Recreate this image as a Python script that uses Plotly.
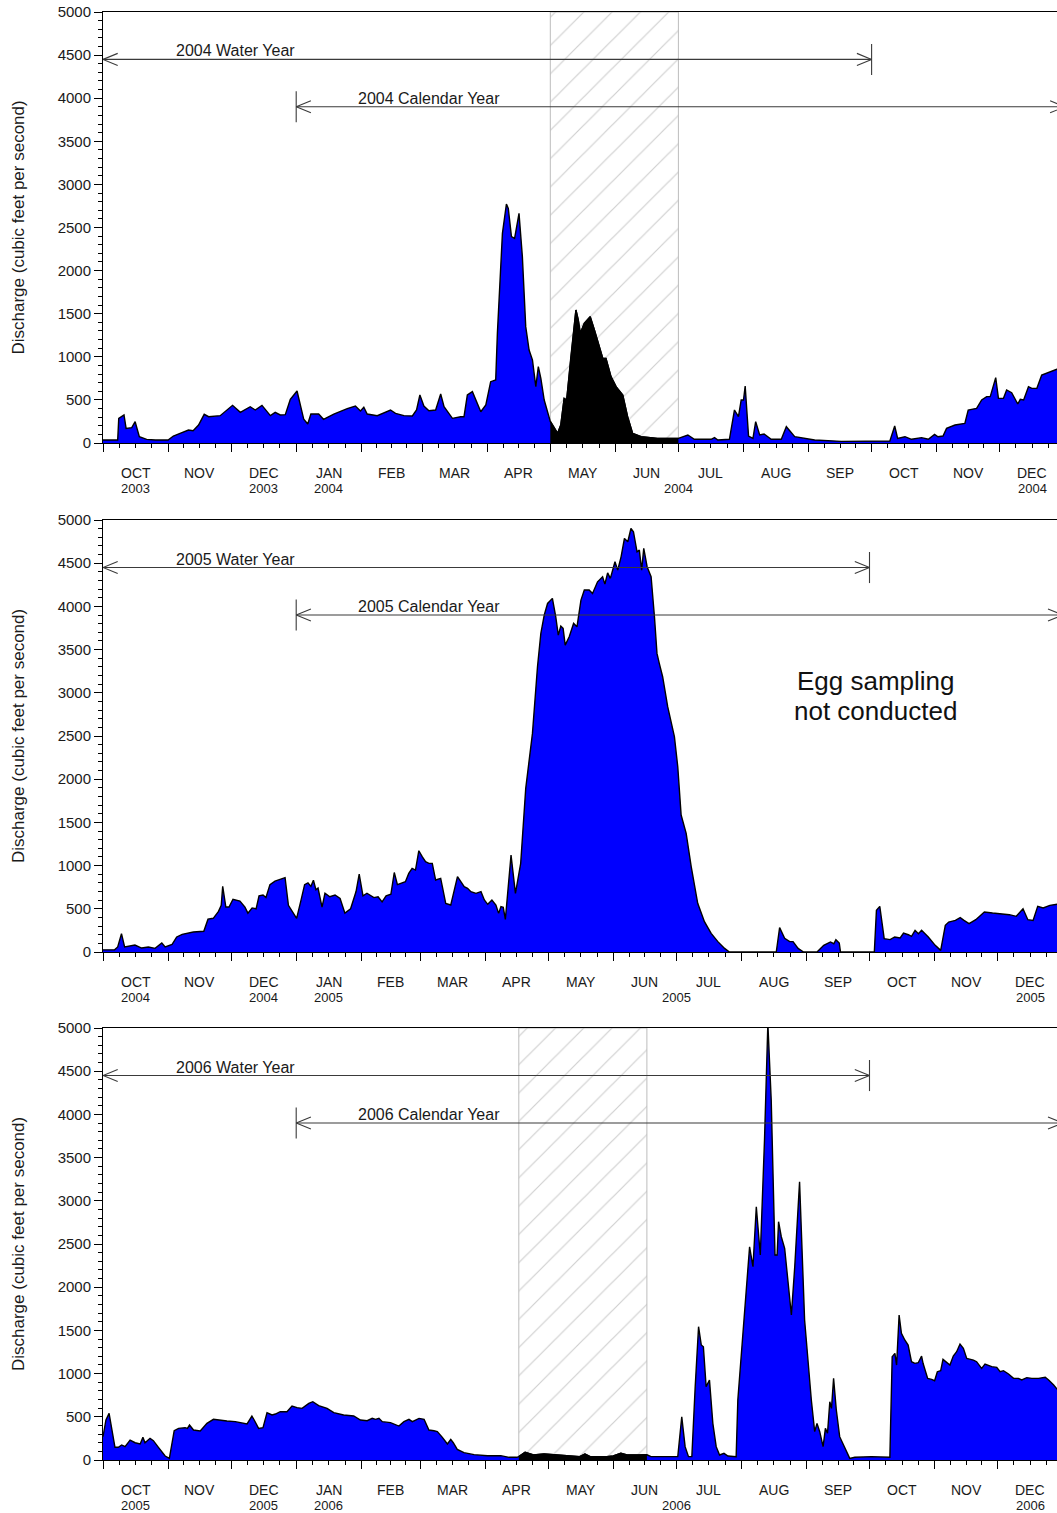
import pandas as pd
import plotly.graph_objects as go

# ---------------- data ----------------
panel_starts = ["2003-10-01", "2004-10-01", "2005-10-01"]

# day offsets from panel start (Oct 1) and discharge (cfs)
days_p1 = [0, 7, 7.5, 10, 11, 13.7, 15.3, 17.3, 20.8, 25, 31, 33.5, 36.7, 40.7, 42.9, 45.5, 48.2, 50.3,
           55.8, 59, 61.7, 65.4, 70.1, 72.5, 75.7, 79.7, 82, 84.4, 86.8, 89.2, 92.4, 95.6, 97.5, 99,
           102.7, 105, 109.9, 116.3, 120.2, 122.6, 124.2, 125.8, 130.6, 136.9, 139.3, 143.3, 147.3,
           149.3, 150.9, 152.8, 155.2, 158.4, 160.8, 162.4, 166.4, 170.3, 171.9, 173.5, 175.9, 179.9,
           182.3, 184.6, 187, 187.8, 190.2, 192.1, 193, 194.5, 196, 198.1, 199.7, 201.3, 202.9, 204.5,
           206.1, 207.3, 208.5, 210.1, 213, 216.5, 218, 219.6, 220.8, 222.8, 225.2, 226.3, 227.3,
           229.2, 232, 234, 235.9, 238, 239.5, 241.9, 244.3, 247.5, 249.8, 252.2, 256.2, 264, 274,
           278.5, 281.6, 289.6, 291.2, 292.8, 298.3, 300.7, 302.6, 303.9, 305, 305.8, 307.4, 309.5,
           310.8, 312.7, 314.8, 318.2, 323, 325.4, 329.4, 332.6, 338.9, 351.6, 367.5, 374.7, 377,
           378.4, 381.9, 385, 389.8, 393, 396, 397.6, 400, 401.7, 405.7, 410.4, 412, 416, 418.4,
           420.8, 422.5, 424, 425.1, 426.4, 428.8, 430.3, 432.7, 435.6, 436.8, 438.4, 440.7, 442.3,
           444.7, 447, 450.2, 454.2, 456]
flow_p1 = [35, 35, 286, 325, 170, 178, 247, 73, 42, 35, 35, 81, 112, 150, 143, 209, 333, 305,
           317, 383, 437, 356, 421, 383, 437, 317, 356, 325, 329, 507, 603, 275, 220, 336,
           336, 275, 336, 398, 429, 371, 414, 336, 317, 383, 344, 317, 313,
           383, 557, 429, 375, 383, 568, 421, 286, 305, 305, 557, 596, 363,
           441, 711, 731, 1272, 2432, 2773, 2722, 2394, 2374, 2664, 2162, 1350, 1079, 963,
           654, 886, 750, 499, 250, 112, 209, 518, 499, 1001, 1543, 1427, 1272,
           1388, 1466, 1311, 1156, 982, 982, 770, 654, 557, 306, 112, 73, 54, 54,
           93, 43, 43, 62, 35, 43, 383, 305, 499, 499, 661, 81, 54,
           247, 93, 104, 43, 43, 189, 73, 62, 35, 19, 23, 23, 197,
           54, 73, 43, 62, 43, 100, 73, 81, 170, 209, 228, 383, 402, 499,
           538, 538, 653, 758, 518, 518, 615, 584, 452, 507, 499, 653, 634,
           634, 789, 816, 855, 855]

days_p2 = [0, 5.5, 7, 8.8, 10.3, 12, 15.2, 18.4, 21.6, 24.8, 28, 29.6, 32.9, 35.1, 37.7, 43, 48,
           50, 52.5, 55, 56.3, 57, 58.5, 60, 61.9, 65.2, 67.6, 69, 71, 72.9, 74.3, 76.2, 77.6, 79.5,
           81.9, 84.3, 86.7, 88.3, 90, 92.2, 94.3, 96, 97.6, 99, 100.2, 101.4, 102.4, 104.3, 105.7,
           108, 110.5, 112.9, 115.2, 117.9, 120.5, 122, 123.8, 125.7, 129, 131, 132.9, 134.8, 137.1,
           138.7, 140.2, 141.7, 144, 145.6, 147.2, 148.8, 150.4, 152, 153.6, 155.2, 156.8, 158.4,
           160.8, 161.6, 163.2, 165.6, 167.2, 168.8, 170.4, 172, 173.6, 175.2, 177.6, 180, 181.6,
           183.2, 185.2, 187.1, 188.4, 189.5, 190.6, 191.6, 194.3, 196.4, 198.9, 201.3, 204.5,
           206.9, 208.5, 210.1, 211.7, 213, 214, 215.6, 216.8, 218, 219.1, 220.1, 222, 224.1, 225.7,
           227.6, 229.2, 231.5, 233.1, 235.5, 237.9, 239, 240.3, 241.6, 243.8, 245.1, 246.7, 248.3,
           249.9, 251.4, 252.6, 254.3, 255.4, 256.5, 257.5, 259.1, 261, 262.6, 263.8, 264.9, 266.5,
           268.9, 272.1, 273.7, 275.3, 277.7, 280.1, 283.2, 286.4, 289.6, 292.8, 296, 298.3, 320.6,
           322.2, 324.6, 327, 328.6, 331, 333.6, 340, 343.2, 346.4, 348, 349, 350.6, 351.2, 367.3,
           368.3, 369.9, 372, 374.8, 377, 379.6, 381.2, 383.5, 385, 386.7, 388.3, 389.8, 393, 396.3,
           398.9, 401.1, 402.7, 405.9, 408.2, 410, 412.4, 415.6, 419.7, 423.6, 426.8, 431.6, 434.9,
           438.1, 440.4, 442.9, 445.1, 447.7, 450.9, 454.2, 456]
flow_p2 = [25, 25, 58, 212, 58, 66, 81, 46, 58, 42, 104, 58, 89, 174, 204, 231, 240,
           380, 390, 470, 540, 760, 520, 520, 610, 590, 520, 450, 510, 500, 650, 660, 630, 780,
           820, 840, 860, 540, 480, 390, 600, 780, 800, 760, 830, 720, 740, 520, 680,
           640, 660, 620, 450, 500, 700, 900, 650, 680, 630, 640, 580, 650, 670,
           920, 780, 795, 814, 910, 968, 949, 1172, 1103, 1045, 1026, 1026, 833,
           852, 756, 563, 544, 717, 872, 814, 756, 737, 698, 679, 698, 602,
           552, 602, 544, 447, 525, 517, 378, 1122, 679, 1026, 1894, 2530,
           3302, 3687, 3899, 4034, 4073, 4093, 3880, 3668, 3772, 3745, 3552, 3649, 3803, 3764,
           4073, 4189, 4189, 4150, 4285, 4343, 4258, 4389, 4324, 4517, 4420, 4574, 4787,
           4748, 4902, 4864, 4632, 4652, 4420, 4671, 4459, 4343, 3880, 3456, 3340, 3186,
           2839, 2492, 2144, 1585, 1373, 987, 563, 351, 216, 120, 42, 0, 0,
           282, 158, 120, 120, 42, 0, 0, 77, 116, 96, 143, 104, 0, 0,
           482, 528, 154, 143, 174, 162, 220, 200, 181, 251, 212, 251, 174, 77,
           19, 309, 347, 366, 397, 366, 328, 374, 463, 451, 444, 432, 413,
           501, 374, 366, 528, 509, 540, 548, 560]

days_p3 = [0, 1.4, 2.9, 4.1, 5.7, 7.3, 8.9, 10.5, 12.9, 15.3, 17.7, 19, 20, 22.4, 24, 26.4, 29.6,
           31.6, 33.9, 36, 39.1, 40.2, 41.2, 43.1, 46.3, 49.5, 52.6, 59, 63, 68.6, 70.9, 72, 74.1,
           76.2, 78.1, 80.5, 82.1, 84.4, 87.6, 90, 92.4, 94.8, 98, 99.9, 102.7, 106.7, 109.9, 114.6,
           119.4, 122.6, 125.8, 128.2, 129.8, 131.4, 133, 136.9, 140.9, 143.3, 145.7, 147.3, 150.5,
           152.9, 155.2, 157.6, 159.2, 161.6, 164, 165.6, 166.8, 168.7, 171.9, 176.7, 183.1, 189.4,
           193.4, 197, 198, 201, 205, 210, 214.8, 221, 227, 229.5, 232, 239.9, 243, 246.6, 249.5,
           255.4, 259, 261, 267, 273.7, 275.6, 277.2, 278.8, 280.4, 282, 283.6, 284.9, 285.9, 287.2,
           288.8, 290.4, 292, 293.6, 295.7, 297.6, 301.5, 302.3, 303.9, 305.8, 307.9, 309.5, 311.1,
           313, 315, 316.6, 318.2, 320, 321, 321.7, 323, 324.6, 326.2, 327.8, 329.4, 331.7, 334.1,
           335.7, 337.3, 338.9, 340, 341.3, 342.9, 344, 345, 346.1, 346.9, 347.9, 349.2, 350.8,
           353.2, 355.6, 358, 366, 374.7, 375.8, 377.1, 377.9, 379.1, 380.2, 381.8, 383.4, 385,
           386.6, 388.2, 389.8, 390.5, 392.7, 394.6, 396, 397.3, 398.9, 400, 403.3, 404.9, 406.5,
           408.1, 409.7, 411.3, 414.5, 416, 418.4, 420, 423.2, 425.6, 427.2, 428.8, 431.2, 433.6,
           435.9, 437.5, 439.9, 442.3, 445.5, 448.7, 450.3, 452.7, 454.7, 456]
flow_p3 = [270, 463, 540, 386, 147, 147, 174, 154, 231, 200, 185, 262, 200, 251, 224, 147, 46,
           19, 339, 366, 374, 366, 405, 347, 336, 424, 471, 451, 444, 417, 509, 463, 366,
           374, 548, 521, 532, 559, 559, 625, 606, 598, 656, 675, 629, 598, 548, 521,
           509, 463, 455, 482, 471, 482, 444, 432, 393, 444, 471, 444, 482,
           471, 347, 339, 328, 262, 185, 239, 200, 123, 85, 62, 50, 50,
           31, 31, 39, 89, 58, 69, 62, 46, 39, 69, 39, 39, 46, 77, 58,
           58, 60, 39, 39, 39, 501, 154, 39, 39, 849, 1543, 1331, 1311, 849,
           926, 424, 154, 58, 77, 46, 39, 694, 1196, 1851, 2468, 2237, 2931,
           2372, 3703, 5050, 4166, 2372, 2372, 2758, 2584, 2449, 2083, 1678, 2237, 3221, 1620,
           1119, 694, 328, 424, 328, 154, 366, 309, 675, 598, 945, 579, 270,
           135, 19, 31, 39, 31, 1196, 1234, 1099, 1678, 1466, 1389, 1331, 1138,
           1119, 1126, 1203, 1119, 945, 933, 918, 1022, 1034, 1165, 1099, 1203, 1253,
           1342, 1292, 1176, 1157, 1138, 1061, 1111, 1080, 1072, 1022, 1034, 995, 945,
           945, 926, 953, 945, 945, 957, 926, 868, 810, 790]

# egg-sampling windows (hatched)
window_starts = ["2004-05-01", None, "2006-04-17"]
window_ends = ["2004-07-01", None, "2006-06-17"]

month_labels = ["OCT", "NOV", "DEC", "JAN", "FEB", "MAR", "APR", "MAY", "JUN",
                "JUL", "AUG", "SEP", "OCT", "NOV", "DEC"]
water_arrow_level = 4450
calendar_arrow_level = 3900
note_lines = ["Egg sampling", "not conducted"]

# ---------------- layout helpers ----------------
FONT = "Liberation Sans, Arial, sans-serif"
TXT = "#1a1a1a"
W, H = 1057, 1513
ML = 103
plot_px = [(12, 443), (520, 952), (1028, 1460)]
PX_PER_DAY = 2.1
span_days = (W - ML) / PX_PER_DAY

days_all = [days_p1, days_p2, days_p3]
flow_all = [flow_p1, flow_p2, flow_p3]

fig = go.Figure()
annotations = []
layout_axes = {}

for i in range(3):
    sfx = "" if i == 0 else str(i + 1)
    xname, yname = "x" + sfx, "y" + sfx
    start = pd.Timestamp(panel_starts[i])
    y0 = start.year
    y1 = y0 + 1
    dates = [start + pd.Timedelta(days=d) for d in days_all[i]]
    flows = flow_all[i]

    # hatched sampling window
    if window_starts[i]:
        ws_, we_ = pd.Timestamp(window_starts[i]), pd.Timestamp(window_ends[i])
        fig.add_trace(go.Scatter(
            x=[ws_, we_, we_, ws_, ws_], y=[0, 0, 5000, 5000, 0],
            xaxis=xname, yaxis=yname, mode="lines", fill="toself",
            fillcolor="white",
            fillpattern=dict(shape="/", size=20, solidity=0.06, fgcolor="#a0a0a0", bgcolor="white"),
            line=dict(color="#bcbcbc", width=1), hoverinfo="skip", showlegend=False))

    # discharge
    fig.add_trace(go.Scatter(
        x=dates, y=flows, xaxis=xname, yaxis=yname, mode="lines",
        fill="tozeroy", fillcolor="#0000ff", line=dict(color="black", width=1.4),
        showlegend=False))

    if window_starts[i]:
        sel = [(d, f) for d, f in zip(dates, flows) if ws_ <= d <= we_]
        fig.add_trace(go.Scatter(
            x=[s[0] for s in sel], y=[s[1] for s in sel], xaxis=xname, yaxis=yname,
            mode="lines", fill="tozeroy", fillcolor="black",
            line=dict(color="black", width=1.4), showlegend=False))

    # arrows
    wy_s = start
    wy_e = pd.Timestamp(f"{y1}-10-01")
    cy_s = pd.Timestamp(f"{y1}-01-01")
    cy_e = pd.Timestamp(f"{y1 + 1}-01-01")
    hd = pd.Timedelta(days=7)
    hy = 70
    bar = 180
    wl, cl = water_arrow_level, calendar_arrow_level
    ax_x = [wy_s, wy_e, None,
            wy_s + hd, wy_s, wy_s + hd, None,
            wy_e - hd, wy_e, wy_e - hd, None,
            wy_e, wy_e, None,
            cy_s, cy_e, None,
            cy_s + hd, cy_s, cy_s + hd, None,
            cy_e - hd, cy_e, cy_e - hd, None,
            cy_s, cy_s]
    ax_y = [wl, wl, None,
            wl + hy, wl, wl - hy, None,
            wl + hy, wl, wl - hy, None,
            wl - bar, wl + bar, None,
            cl, cl, None,
            cl + hy, cl, cl - hy, None,
            cl + hy, cl, cl - hy, None,
            cl - bar, cl + bar]
    fig.add_trace(go.Scatter(x=ax_x, y=ax_y, xaxis=xname, yaxis=yname, mode="lines",
                             line=dict(color="#3a3a3a", width=1.1), hoverinfo="skip",
                             showlegend=False))
    annotations.append(dict(x=wy_s + pd.Timedelta(days=34), y=wl, xref=xname, yref=yname,
                            text=f"{y1} Water Year", showarrow=False, xanchor="left",
                            yanchor="bottom", yshift=-2,
                            font=dict(family=FONT, size=16, color=TXT)))
    annotations.append(dict(x=cy_s + pd.Timedelta(days=28.5), y=cl, xref=xname, yref=yname,
                            text=f"{y1} Calendar Year", showarrow=False, xanchor="left",
                            yanchor="bottom", yshift=-2,
                            font=dict(family=FONT, size=16, color=TXT)))

    # month ticks / labels
    mstarts = pd.date_range(start, periods=16, freq="MS")
    mids = [mstarts[k] + (mstarts[k + 1] - mstarts[k]) / 2 for k in range(15)]
    minor_vals = []
    for k in range(15):
        L = mstarts[k + 1] - mstarts[k]
        minor_vals += [mstarts[k] + L * q / 4 for q in (1, 2, 3)]
    for k, lab in enumerate(month_labels):
        annotations.append(dict(x=mids[k], y=0, xref=xname, yref=yname + " domain",
                                text=lab, showarrow=False, yshift=-30, yanchor="middle",
                                font=dict(family=FONT, size=14, color=TXT)))
    year_pos = [mids[0], mids[2], mids[3], mstarts[9], mids[14]]
    year_txt = [y0, y0, y1, y1, y1]
    for p, t in zip(year_pos, year_txt):
        annotations.append(dict(x=p, y=0, xref=xname, yref=yname + " domain",
                                text=str(t), showarrow=False, yshift=-45, yanchor="middle",
                                borderpad=0, font=dict(family=FONT, size=13, color=TXT)))

    # y title
    annotations.append(dict(x=(18 - ML) / (W - ML), y=0.5, xref="paper", yref=yname + " domain",
                            text="Discharge (cubic feet per second)", textangle=-90,
                            showarrow=False, xanchor="center", yanchor="middle",
                            font=dict(family=FONT, size=17, color=TXT)))

    top, bot = plot_px[i]
    layout_axes["xaxis" + sfx] = dict(
        type="date", domain=[0, 1], anchor=yname, automargin=False,
        range=[start, start + pd.Timedelta(days=span_days)],
        tickmode="array", tickvals=list(mstarts), showticklabels=False,
        ticks="outside", ticklen=8, tickwidth=1, tickcolor="black",
        minor=dict(tickmode="array", tickvals=minor_vals, ticks="outside", ticklen=4,
                   tickwidth=1, tickcolor="black", showgrid=False),
        showline=True, mirror=True, linecolor="black", linewidth=1,
        showgrid=False, zeroline=False, fixedrange=True)
    layout_axes["yaxis" + sfx] = dict(
        domain=[1 - bot / H, 1 - top / H], anchor=xname, range=[0, 5000], automargin=False,
        tickmode="linear", tick0=0, dtick=500, ticks="outside", ticklen=8,
        tickwidth=1, tickcolor="black",
        minor=dict(dtick=100, ticks="outside", ticklen=4, tickwidth=1, tickcolor="black",
                   showgrid=False),
        tickfont=dict(family=FONT, size=15, color=TXT),
        showline=True, linecolor="black", linewidth=1,
        showgrid=False, zeroline=False, fixedrange=True)

# note in panel 2
p2_start = pd.Timestamp(panel_starts[1])
annotations.append(dict(x=p2_start + pd.Timedelta(days=368), y=3135, xref="x2", yref="y2",
                        text=note_lines[0], showarrow=False,
                        font=dict(family=FONT, size=26, color="#111")))
annotations.append(dict(x=p2_start + pd.Timedelta(days=368), y=2790, xref="x2", yref="y2",
                        text=note_lines[1], showarrow=False,
                        font=dict(family=FONT, size=26, color="#111")))

fig.update_layout(
    width=W, height=H, autosize=False,
    margin=dict(l=ML, r=0, t=0, b=0, pad=0, autoexpand=False),
    paper_bgcolor="white", plot_bgcolor="white", showlegend=False,
    annotations=annotations, **layout_axes)

fig.write_html(
    "out.html",
    config={"displayModeBar": False, "staticPlot": True},
    post_script=(
        "var de=document.documentElement, b=document.body;"
        "de.style.margin='0';de.style.padding='0';de.style.overflow='hidden';"
        "b.style.margin='0';b.style.padding='0';b.style.overflow='hidden';"
    ))
